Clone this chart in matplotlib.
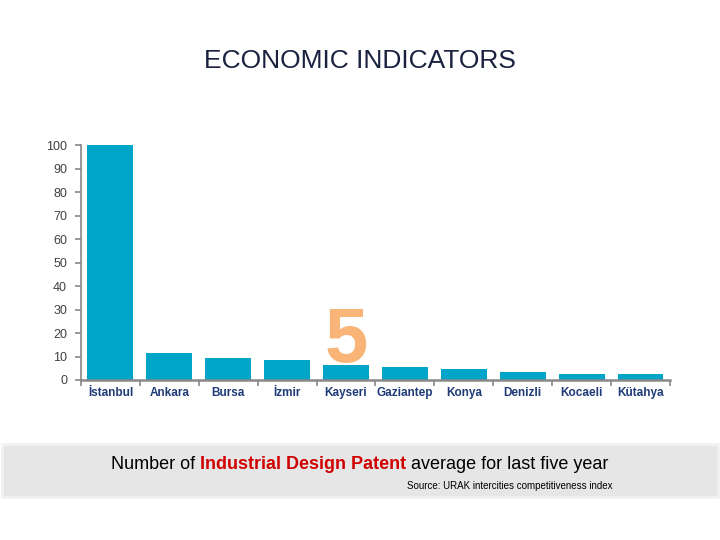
import matplotlib
matplotlib.use("Agg")
import matplotlib.pyplot as plt
from matplotlib.patches import Rectangle

cities = ["İstanbul", "Ankara", "Bursa", "İzmir", "Kayseri",
          "Gaziantep", "Konya", "Denizli", "Kocaeli", "Kütahya"]
patents = [100, 11.5, 9.4, 8.5, 6.4, 5.7, 4.7, 3.5, 2.7, 2.6]
y_ticks = [0, 10, 20, 30, 40, 50, 60, 70, 80, 90, 100]

plt.rcParams['font.family'] = ['Liberation Sans', 'DejaVu Sans']

fig = plt.figure(figsize=(7.2, 5.4), dpi=100)
ax = fig.add_axes([0.1125, 0.2963, 0.818, 0.435])

x = range(len(cities))
ax.bar(x, patents, width=0.78, color="#00A5C8", zorder=2)
ax.set_xlim(-0.5, len(cities) - 0.5)
ax.set_ylim(0, 100)

ax.set_yticks(y_ticks)
ax.set_yticklabels([str(v) for v in y_ticks], fontsize=9, color="#404040")
ax.set_xticks(list(x))
ax.set_xticklabels(cities, fontsize=8.5, color="#1F3C78", fontweight="bold")
ax.tick_params(axis='x', length=0, pad=5)
ax.tick_params(axis='y', length=4, color="#888888", width=1.2, pad=6)
# small ticks between categories
ax.set_xticks([i + 0.5 for i in range(-1, len(cities))], minor=True)
ax.tick_params(axis='x', which='minor', length=4, color="#888888", width=1.2)

for side in ["top", "right"]:
    ax.spines[side].set_visible(False)
ax.spines["left"].set_color("#888888")
ax.spines["bottom"].set_color("#888888")
ax.spines["left"].set_linewidth(1.2)
ax.spines["bottom"].set_linewidth(1.8)

# big orange "5" above Kayseri, partly behind the bar
ax.text(4, 1.0, "5", ha="center", va="bottom", fontsize=56, fontweight="bold",
        color="#F9B477", zorder=1)

fig.text(0.5, 0.887, "ECONOMIC INDICATORS", ha="center", va="center",
         fontsize=19, color="#1A2240")

# caption box
fig.patches.append(Rectangle((0.003, 0.08), 0.994, 0.098, transform=fig.transFigure,
                             facecolor="#E6E6E6", edgecolor="#F2F2F2", linewidth=2))
cap_y = 0.139
parts = [("Number of ", "#000000", "normal"),
         ("Industrial Design Patent", "#D00000", "bold"),
         (" average for last five year", "#000000", "normal")]
fig.canvas.draw()
renderer = fig.canvas.get_renderer()
texts = []
total = 0
for s, c, w in parts:
    t = fig.text(0, cap_y, s, fontsize=13, color=c, fontweight=w, va="center", ha="left")
    bb = t.get_window_extent(renderer)
    texts.append((t, bb.width))
    total += bb.width
start = (720 - total) / 2
for t, wdt in texts:
    t.set_x(start / 720)
    start += wdt

fig.text(0.851, 0.1, "Source: URAK intercities competitiveness index", ha="right",
         va="center", fontsize=7, color="#000000")

fig.savefig("out.png", dpi=100)
